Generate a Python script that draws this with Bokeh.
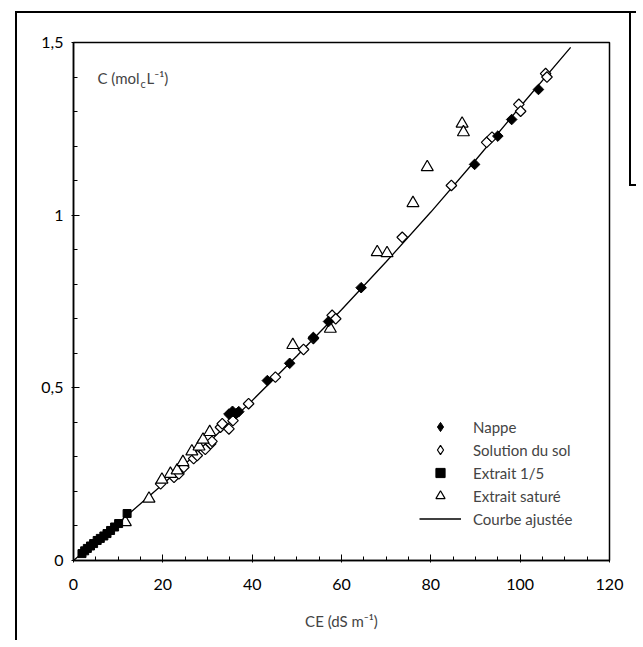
import math
from bokeh.plotting import figure
from bokeh.models import (SingleIntervalTicker, CustomJSTickFormatter, Label,
                          Legend, LegendItem, Range1d)
from bokeh.embed import file_html
from bokeh.resources import INLINE

FONT = "Lato"

# ---- data ----
curve_x = [0, 10, 20, 30, 40, 50, 60, 70, 80, 90, 100, 111.3]
curve_y = [0, 0.108, 0.221, 0.339, 0.463, 0.592, 0.726, 0.865, 1.009, 1.159, 1.314, 1.486]

nappe_x = [34.8, 35.6, 36.4, 37.0, 43.4, 48.4, 53.7, 57.1, 64.4, 89.8, 95.0, 98.1, 104.1]
nappe_y = [0.424, 0.432, 0.425, 0.431, 0.521, 0.571, 0.646, 0.692, 0.790, 1.147, 1.229, 1.277, 1.364]

sol_x = [19.5, 22.5, 23.6, 24.7, 26.9, 27.7, 29.5, 30.7, 31.0, 32.9, 33.3, 34.8, 35.7,
         39.2, 45.2, 51.5, 53.7, 57.9, 58.7, 73.6, 84.6, 92.5, 93.7, 99.7, 100.1, 105.7, 106.0]
sol_y = [0.222, 0.241, 0.251, 0.270, 0.295, 0.304, 0.322, 0.338, 0.345, 0.386, 0.396, 0.381, 0.405,
         0.454, 0.531, 0.611, 0.643, 0.710, 0.700, 0.936, 1.086, 1.211, 1.226, 1.321, 1.301, 1.410, 1.400]

ext15_x = [1.9, 2.5, 3.1, 3.8, 4.5, 5.3, 6.0, 6.8, 7.5, 8.3, 9.2, 10.1, 12.0]
ext15_y = [0.020, 0.028, 0.035, 0.042, 0.049, 0.058, 0.064, 0.071, 0.078, 0.087, 0.097, 0.107, 0.136]

sat_x = [11.6, 16.9, 19.8, 21.7, 23.2, 24.5, 26.5, 28.1, 29.0, 30.5, 49.1, 57.5,
         68.0, 70.2, 76.0, 79.2, 87.0, 87.3]
sat_y = [0.111, 0.179, 0.234, 0.251, 0.261, 0.285, 0.316, 0.330, 0.350, 0.372, 0.624, 0.671,
         0.893, 0.890, 1.035, 1.139, 1.265, 1.240]

labels = ["Nappe", "Solution du sol", "Extrait 1/5", "Extrait saturé", "Courbe ajustée"]

# ---- figure ----
p = figure(width=636, height=640, x_range=Range1d(0, 120), y_range=Range1d(0, 1.5),
           output_backend="svg", toolbar_location=None,
           min_border_left=73, min_border_right=27, min_border_top=42, min_border_bottom=80)
p.border_fill_color = None
p.background_fill_color = "white"
# outer page frame lines (drawn as CSS background behind the transparent canvas)
p.styles = {
    "background": ("linear-gradient(#000,#000) 15px 11px / 2px 100% no-repeat, "
                   "linear-gradient(#000,#000) 15px 11px / 100% 2px no-repeat, "
                   "linear-gradient(#000,#000) 629px 11px / 2px 174px no-repeat, "
                   "linear-gradient(#000,#000) 629px 184px / 20px 2px no-repeat, "
                   "#fff")
}

p.xgrid.visible = False
p.ygrid.visible = False
p.outline_line_color = "black"
p.outline_line_width = 1.5

p.xaxis.ticker = SingleIntervalTicker(interval=20, num_minor_ticks=4)
p.yaxis.ticker = SingleIntervalTicker(interval=0.5, num_minor_ticks=5)
p.yaxis.formatter = CustomJSTickFormatter(code="return String(tick).replace('.', ',')")

for ax in (p.xaxis[0], p.yaxis[0]):
    ax.axis_line_color = "black"
    ax.axis_line_width = 1.5
    ax.major_tick_in = 6
    ax.major_tick_out = 2
    ax.minor_tick_in = 4
    ax.minor_tick_out = 0
    ax.major_tick_line_color = "black"
    ax.minor_tick_line_color = "black"
    ax.major_label_text_font = FONT
    ax.major_label_text_font_size = "16px"
    ax.major_label_text_color = "black"

p.xaxis.major_label_standoff = 16
p.yaxis.major_label_standoff = 8
p.xaxis.axis_label = "CE (dS m⁻¹)"
p.xaxis.axis_label_text_font = FONT
p.xaxis.axis_label_text_font_size = "15px"
p.xaxis.axis_label_text_font_style = "normal"
p.xaxis.axis_label_standoff = 19

# ---- glyphs ----
r_curve = p.line(curve_x, curve_y, line_color="black", line_width=1.3)
# diamond-shaped renderers used for the legend symbols; the rotated squares drawn
# afterwards fully cover them in the plot
r_sol_leg = p.scatter(sol_x, sol_y, marker="diamond", size=8, fill_color="white",
                      line_color="black", line_width=1.2)
p.scatter(sol_x, sol_y, marker="square", angle=math.pi / 4, size=7.5,
          fill_color="white", line_color="black", line_width=1.2)
r_sat = p.scatter(sat_x, sat_y, marker="triangle", size=12,
                  fill_color="white", line_color="black", line_width=1.2)
r_nappe_leg = p.scatter(nappe_x, nappe_y, marker="diamond", size=8,
                        fill_color="black", line_color="black")
p.scatter(nappe_x, nappe_y, marker="square", angle=math.pi / 4, size=7.5,
          fill_color="black", line_color="black")
r_ext = p.scatter(ext15_x, ext15_y, marker="square", size=8,
                  fill_color="black", line_color="black")

legend = Legend(items=[
    LegendItem(label=labels[0], renderers=[r_nappe_leg]),
    LegendItem(label=labels[1], renderers=[r_sol_leg]),
    LegendItem(label=labels[2], renderers=[r_ext]),
    LegendItem(label=labels[3], renderers=[r_sat]),
    LegendItem(label=labels[4], renderers=[r_curve]),
], location=(346, 30), glyph_width=42, glyph_height=23, label_height=23, spacing=0,
   padding=0, margin=0, border_line_alpha=0, background_fill_alpha=0, label_standoff=12,
   label_text_font=FONT, label_text_font_size="15px")
p.add_layout(legend)

# ---- y-axis title inside plot ----
ylab_y = 1.396
p.add_layout(Label(x=14.78, y=ylab_y, text="C (mol", text_align="right", text_baseline="middle",
                   text_font=FONT, text_font_size="15px"))
p.add_layout(Label(x=14.78, y=ylab_y, x_offset=1, y_offset=-5, text="c", text_align="left",
                   text_baseline="middle", text_font=FONT, text_font_size="11px"))
p.add_layout(Label(x=14.78, y=ylab_y, x_offset=7, text="L⁻¹)", text_align="left",
                   text_baseline="middle", text_font=FONT, text_font_size="15px"))

open("out.html", "w").write(file_html(p, INLINE))
